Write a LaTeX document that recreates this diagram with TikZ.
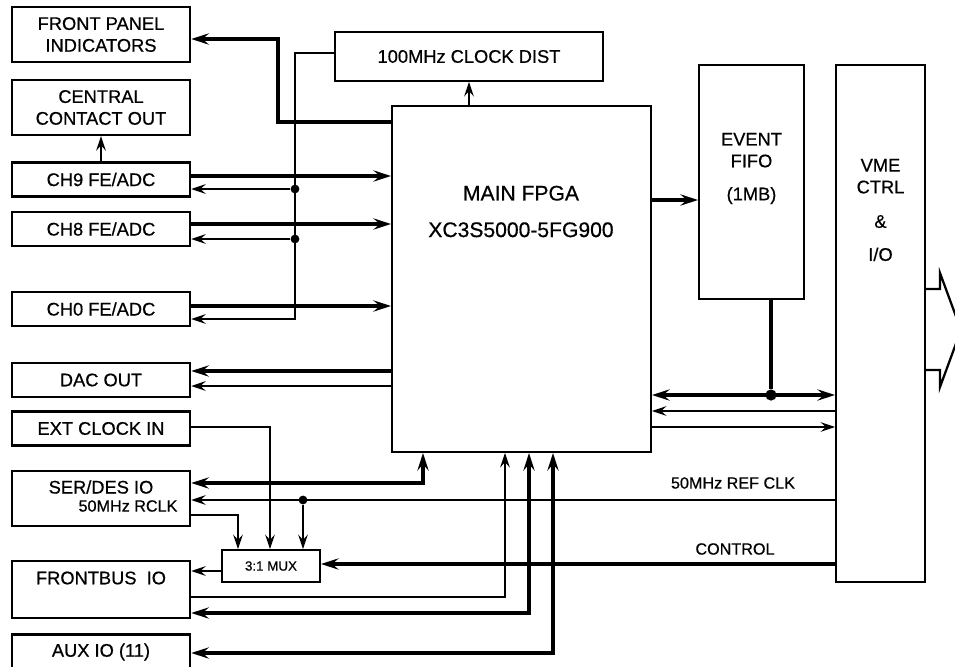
\documentclass[tikz,border=0pt]{standalone}
\usepackage{fontspec}
\setmainfont{Liberation Sans}
\newfontfamily\diagfont{Liberation Sans}[FakeBold=0.6]
\usetikzlibrary{arrows.meta, calc}

\begin{document}
\begin{tikzpicture}[
    x=0.025cm, y=-0.025cm,
    font=\diagfont\fontsize{13}{15.5}\selectfont,
    sidebox/.style={
      draw, line width=1.7pt,
      align=center,
      minimum width=4.45cm, minimum height=0.85cm,
      inner sep=2pt,
    },
    corebox/.style={
      draw, line width=1.3pt,
      align=center,
      inner sep=2pt,
    },
    boxtext/.style={align=center, inner sep=0pt},
    smalltext/.style={font=\diagfont\fontsize{11.5}{13}\selectfont, inner sep=0pt},
    buslabel/.style={font=\diagfont\fontsize{11.5}{13}\selectfont, inner sep=0pt},
    dot/.style={circle, fill, inner sep=0pt, minimum size=2.2mm},
    thinline/.style={line width=1.5pt},
    thickline/.style={line width=2.4pt},
    thinarrow/.style={-{Stealth[length=3.6mm, width=2.4mm, inset=1.3mm]},
                      line width=1.5pt},
    thickarrow/.style={-{Stealth[length=4.4mm, width=2.8mm, inset=1.6mm]},
                       line width=2.4pt},
    thickboth/.style={{Stealth[length=4.4mm, width=2.8mm, inset=1.6mm]}-%
                      {Stealth[length=4.4mm, width=2.8mm, inset=1.6mm]},
                      line width=2.4pt},
    busoutline/.style={line width=1.6pt, line join=miter},
  ]

  \useasboundingbox (0,0) rectangle (955,666);
  \clip (0,0) rectangle (955,666);

  % -----------------------------------------------------------
  % Left column: front-end and I/O boxes
  % -----------------------------------------------------------
  \node[sidebox, minimum height=1.375cm] (fpi) at (101,34.5)
        {FRONT PANEL\\INDICATORS};
  \node[sidebox, minimum height=1.375cm] (cco) at (101,107.5)
        {CENTRAL\\CONTACT OUT};
  \node[sidebox] (ch9)    at (101,179.5) {CH9 FE/ADC};
  \node[sidebox] (ch8)    at (101,229)   {CH8 FE/ADC};
  \node[sidebox] (ch0)    at (101,309)   {CH0 FE/ADC};
  \node[sidebox] (dac)    at (101,380)   {DAC OUT};
  \node[sidebox] (ext)    at (101,428.5) {EXT CLOCK IN};
  \node[sidebox, minimum height=1.375cm] (serdes) at (101,498.5) {};
  \node[sidebox, minimum height=1.425cm] (fbus)   at (101,589.5) {};
  \node[sidebox, minimum height=0.875cm] (aux)    at (101,652)   {AUX IO (11)};

  \node[boxtext]   (serdestxt) at (101,487) {SER/DES IO};
  \node[smalltext] (rclktxt)   at (128,506) {50MHz RCLK};
  \node[boxtext]   (fbustxt)   at (101,578) {FRONTBUS~~IO};

  % -----------------------------------------------------------
  % Centre and right: FPGA, clock, FIFO, VME, mux
  % -----------------------------------------------------------
  \node[corebox, minimum width=6.7cm, minimum height=1.225cm]
        (clk) at (469,56.5) {100MHz CLOCK DIST};
  \node[corebox, minimum width=6.475cm, minimum height=8.65cm]
        (fpga) at (521.5,279) {};
  \node[boxtext, font=\diagfont\fontsize{15}{18}\selectfont]
        (fpganame) at (521,211.5) {MAIN FPGA\\[8pt]XC3S5000-5FG900};
  \node[corebox, minimum width=2.625cm, minimum height=5.85cm]
        (fifo) at (751.5,182) {};
  \node[boxtext] (fifotxt) at (751.5,168.5) {EVENT\\FIFO\\[8pt](1MB)};
  \node[corebox, minimum width=2.225cm, minimum height=12.925cm]
        (vme) at (880.5,323.5) {};
  \node[boxtext] (vmetxt) at (880.5,210) {VME\\CTRL\\[9pt]\&\\[8pt]I/O};
  \node[corebox, minimum width=2.45cm, minimum height=0.8cm,
        font=\diagfont\fontsize{9.5}{11}\selectfont] (mux) at (271,566) {3:1 MUX};

  % -----------------------------------------------------------
  % FPGA to front panel, clock distribution
  % -----------------------------------------------------------
  \draw[thickarrow] (fpga.west |- 0,122) -| (278,39) -- (fpi.east |- 0,39);
  \draw[thinarrow]  (clk.south |- fpga.north) -- (clk.south);
  \draw[thinarrow]  (ch9.north) -- (cco.south);

  \node[dot] (tap9) at (295,189) {};
  \node[dot] (tap8) at (295,239) {};
  \draw[thinarrow] (clk.west |- 0,53) -| (295,319) -- (ch0.east |- 0,319);
  \draw[thinarrow] (tap9) -- (ch9.east |- tap9);
  \draw[thinarrow] (tap8) -- (ch8.east |- tap8);

  % channel data into the FPGA
  \draw[thickarrow] (ch9.east |- 0,176) -- (fpga.west |- 0,176);
  \draw[thickarrow] (ch8.east |- 0,224) -- (fpga.west |- 0,224);
  \draw[thickarrow] (ch0.east |- 0,306) -- (fpga.west |- 0,306);

  % DAC
  \draw[thickarrow] (fpga.west |- 0,371) -- (dac.east |- 0,371);
  \draw[thinarrow]  (fpga.west |- 0,386) -- (dac.east |- 0,386);

  % -----------------------------------------------------------
  % Clock selection (3:1 mux)
  % -----------------------------------------------------------
  \draw[thinarrow] (ext.east |- 0,427) -| (mux.north -| 270,0);
  \draw[thinarrow] (serdes.east |- 0,515) -| (mux.north -| 238,0);
  \node[dot] (refdot) at (303,500) {};
  \draw[thinarrow] (vme.west |- 0,500) -- (serdes.east |- 0,500);
  \draw[thinarrow] (refdot) -- (mux.north -| refdot);
  \node[buslabel] (reflbl) at (733,483) {50MHz REF CLK};

  \draw[thickarrow] (vme.west |- 0,564) -- (mux.east |- 0,564);
  \node[buslabel] (ctrllbl) at (735,549) {CONTROL};
  \draw[thinarrow] (mux.west |- 0,571) -- (fbus.east |- 0,571);

  % -----------------------------------------------------------
  % I/O into the FPGA bottom edge
  % -----------------------------------------------------------
  \draw[thickboth] (serdes.east |- 0,483) -| (fpga.south -| 423,0);
  \draw[thinarrow] (fbus.east |- 0,597) -| (fpga.south -| 505,0);
  \draw[thickboth] (fbus.east |- 0,613) -| (fpga.south -| 529,0);
  \draw[thickboth] (aux.east |- 0,653)  -| (fpga.south -| 553,0);

  % -----------------------------------------------------------
  % FIFO and VME bus
  % -----------------------------------------------------------
  \draw[thickarrow] (fpga.east |- 0,200) -- (fifo.west |- 0,200);
  \node[dot, minimum size=2.8mm] (busdot) at (771,395) {};
  \draw[thickboth] (fpga.east |- busdot) -- (vme.west |- busdot);
  \draw[thickline] (fifo.south -| busdot) -- (busdot);
  \draw[thinarrow] (vme.west |- 0,411) -- (fpga.east |- 0,411);
  \draw[thinarrow] (fpga.east |- 0,427) -- (vme.west |- 0,427);

  % outgoing VME bus arrow (runs off the right edge)
  \draw[busoutline] (vme.east |- 0,289) -- (940,289) -- (940,273)
        -- (961,330) -- (940,387) -- (940,370) -- (vme.east |- 0,370);

\end{tikzpicture}
\end{document}
